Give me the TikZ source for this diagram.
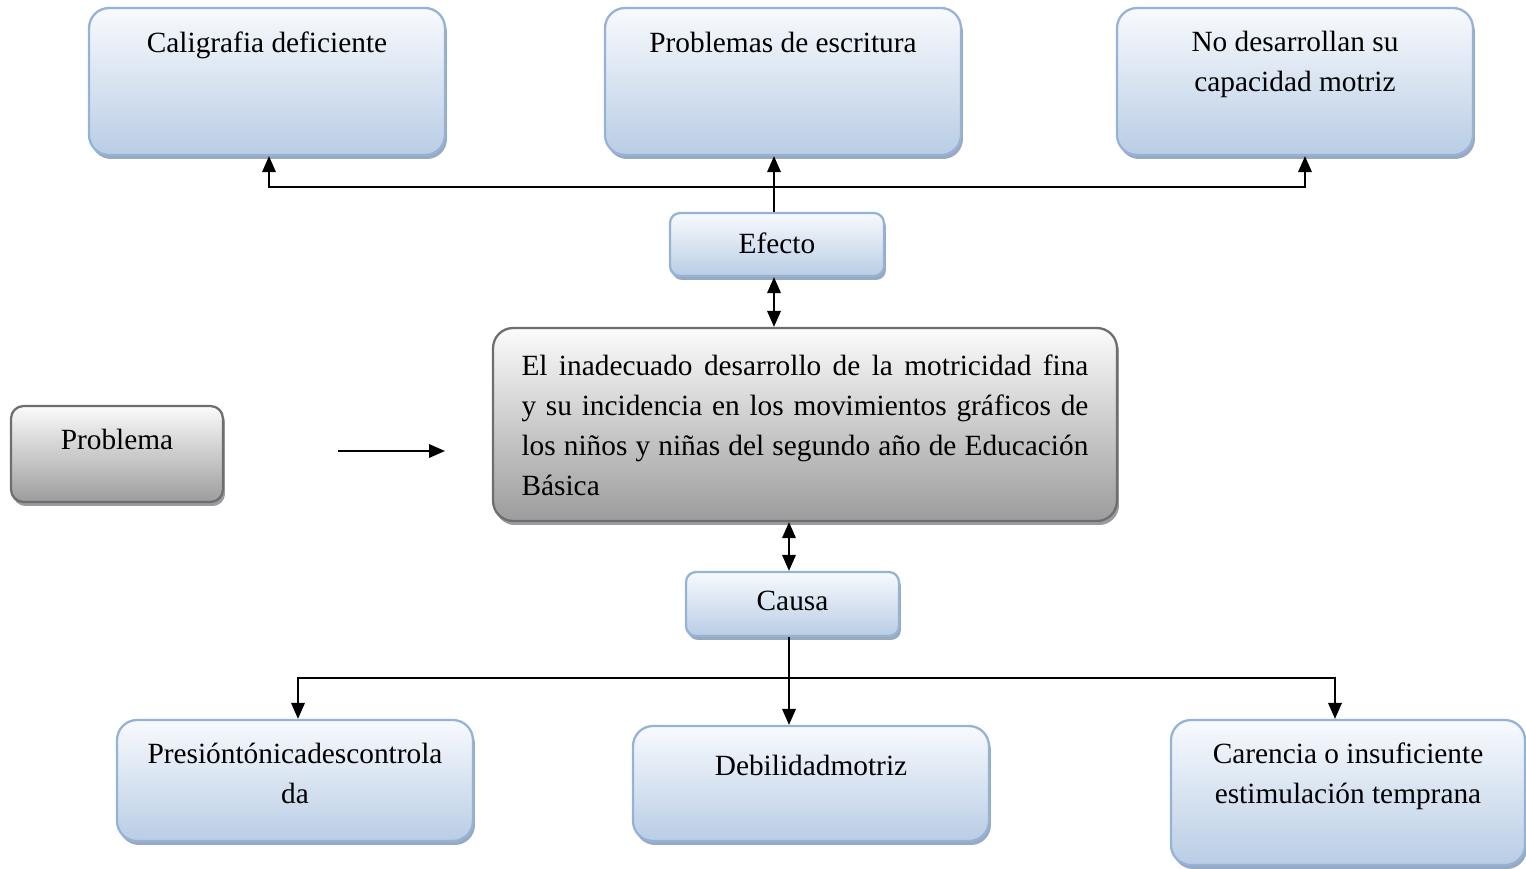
\documentclass[tikz,border=0pt]{standalone}
\usepackage{fontspec}
\setmainfont{Liberation Serif}
\usetikzlibrary{arrows.meta,shadows}
\definecolor{boxtop}{HTML}{F8FAFD}
\definecolor{boxbot}{HTML}{B9CDE5}
\definecolor{boxline}{HTML}{95B3D7}
\definecolor{boxshade}{HTML}{7F93B0}
\definecolor{greytop}{HTML}{FBFBFB}
\definecolor{greybot}{HTML}{9C9C9C}
\definecolor{greyline}{HTML}{6E6E6E}
\tikzset{
  bluebox/.style={draw=boxline, line width=1.3pt, rounded corners=0.4cm,
    top color=boxtop, middle color=boxtop!55!boxbot, bottom color=boxbot,
    drop shadow={shadow xshift=0.04cm, shadow yshift=-0.08cm, fill=boxshade, opacity=0.8}},
  smallbox/.style={bluebox, rounded corners=0.2cm},
  greybox/.style={bluebox, draw=greyline, top color=greytop, middle color=greytop!50!greybot,
    bottom color=greybot, drop shadow={shadow xshift=0.04cm, shadow yshift=-0.08cm, fill=black!40, opacity=0.8}},
  txt/.style={inner sep=0pt, align=center, font=\fontsize{16.7}{22.7}\selectfont},
  arr/.style={line width=1.1pt, -{Triangle[length=0.32cm,width=0.27cm]}},
  arrs/.style={line width=1.1pt, {Triangle[length=0.32cm,width=0.27cm]}-{Triangle[length=0.32cm,width=0.27cm]}}
}
\begin{document}
\begin{tikzpicture}[x=0.02cm, y=-0.02cm]
\useasboundingbox (0,0) rectangle (1526,869);
% effects
\node[bluebox, minimum width=7.12cm, minimum height=2.94cm] (cal) at (267,81.5) {}; % Efecto.1
\node[bluebox, minimum width=7.12cm, minimum height=2.94cm] (esc) at (783,81.5) {}; % Efecto.2
\node[bluebox, minimum width=7.12cm, minimum height=2.94cm] (mot) at (1295,81.5) {}; % Efecto.3
\node[smallbox, minimum width=4.28cm, minimum height=1.26cm] (efe) at (777,244.5) {}; % Efecto
% problem
\node[greybox, minimum width=12.48cm, minimum height=3.86cm] (main) at (805,424.5) {}; % tema
\node[greybox, rounded corners=0.25cm, minimum width=4.24cm, minimum height=1.92cm] (prob) at (117,454) {}; % Problema
% causes
\node[smallbox, minimum width=4.26cm, minimum height=1.28cm] (causa) at (792.5,604) {}; % Causa
\node[bluebox, minimum width=7.12cm, minimum height=2.42cm] (pres) at (295,780.5) {}; % Causa.1
\node[bluebox, minimum width=7.12cm, minimum height=2.30cm] (deb) at (811,783.5) {}; % Causa.2
\node[bluebox, minimum width=7.08cm, minimum height=2.90cm] (car) at (1348,792.5) {}; % Causa.3

\node[txt, anchor=north] (cal-t) at ([yshift=-0.5cm]cal.north) {Caligrafia deficiente};
\node[txt, anchor=north] (esc-t) at ([yshift=-0.5cm]esc.north) {Problemas de escritura};
\node[txt, anchor=north] (mot-t) at ([yshift=-0.48cm]mot.north) {No desarrollan su\\capacidad motriz};
\node[txt] (efe-t) at (777,243) {Efecto};
\node[txt, anchor=north, text width=11.34cm, align=justify] (main-t) at ([yshift=-0.56cm]main.north)
  {\hyphenpenalty=10000 El inadecuado desarrollo de la motricidad fina\linebreak y su incidencia en los movimientos gráficos de\linebreak los niños y niñas del segundo año de Educación\linebreak Básica};
\node[txt] (prob-t) at (117,439) {Problema};
\node[txt] (causa-t) at (792.5,601) {Causa};
\node[txt, anchor=north] (pres-t) at ([yshift=-0.48cm]pres.north) {Presióntónicadescontrola\\da};
\node[txt, anchor=north] (deb-t) at ([yshift=-0.6cm]deb.north) {Debilidadmotriz};
\node[txt, anchor=north] (car-t) at ([yshift=-0.48cm]car.north) {Carencia o insuficiente\\estimulación temprana};

\coordinate (hub) at (774,187);
\coordinate (hubb) at (789,678);
\coordinate (pa) at (338,451);
\coordinate (pb) at (445,451);
\draw[line width=1.1pt] (efe.north -| hub) -- (hub);
\draw[arr] (hub) -- (hub |- esc.south);
\draw[arr] (hub) -| ([xshift=0.04cm]cal.south);
\draw[arr] (hub) -| ([xshift=0.2cm]mot.south);
\draw[arrs] (efe.south -| hub) -- (main.north -| hub);
\draw[arr] (pa) -- (pb);
\draw[arrs] (main.south -| hubb) -- (causa.north -| hubb);
\draw[arr] (causa.south -| hubb) -- (deb.north -| hubb);
\draw[arr] (hubb) -| ([xshift=0.06cm]pres.north);
\draw[arr] (hubb) -| ([xshift=-0.26cm]car.north);
\end{tikzpicture}
\end{document}
